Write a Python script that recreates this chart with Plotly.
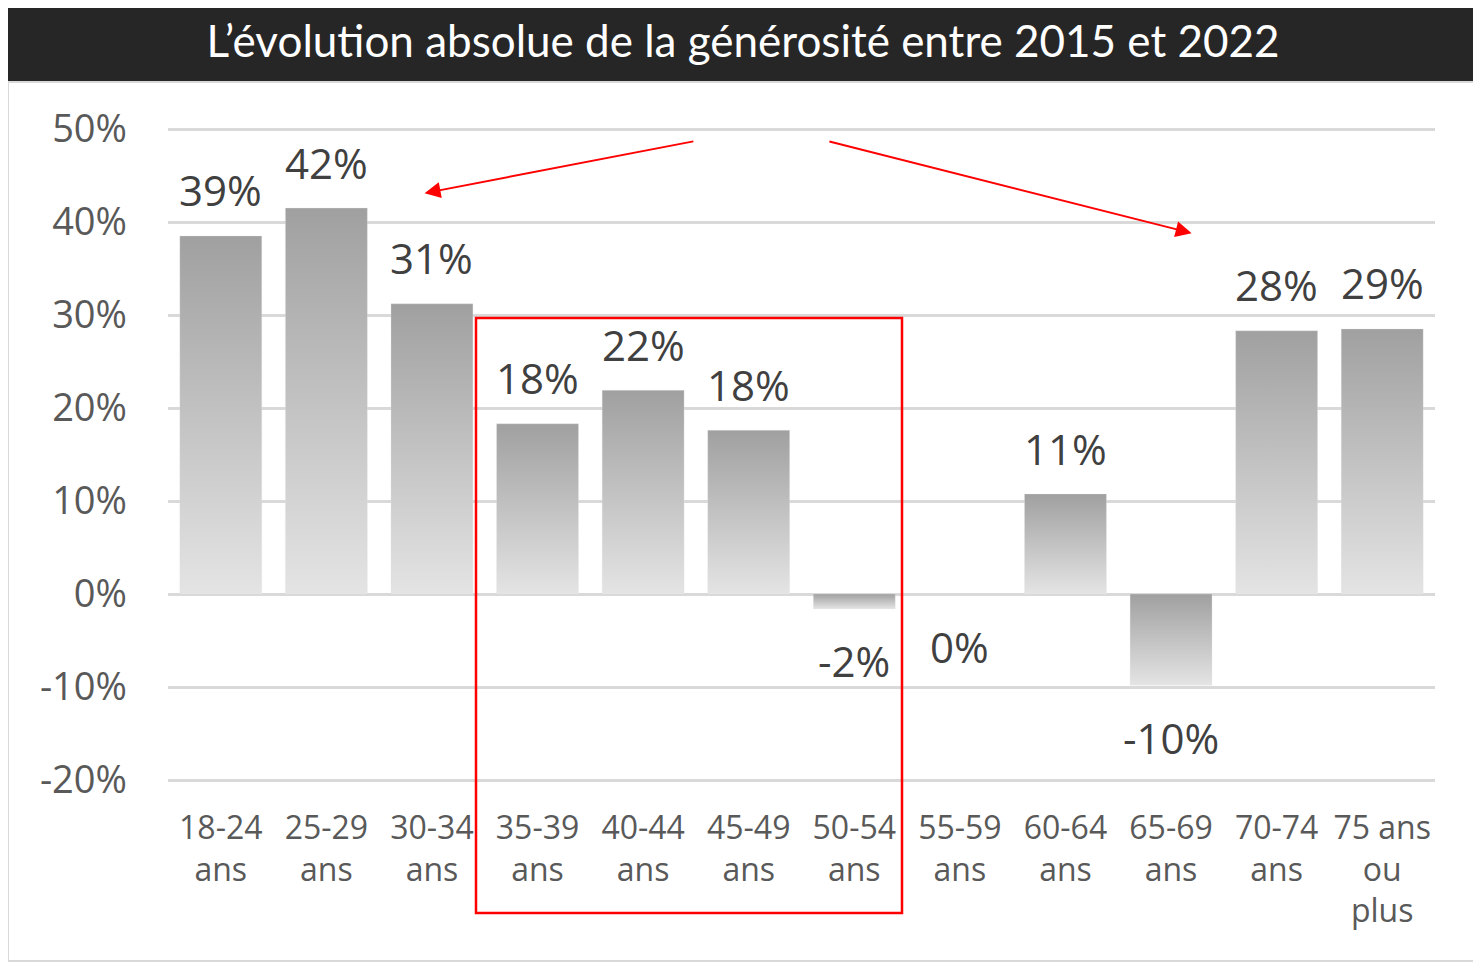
import plotly.graph_objects as go

categories = ["18-24<br>ans", "25-29<br>ans", "30-34<br>ans", "35-39<br>ans", "40-44<br>ans",
              "45-49<br>ans", "50-54<br>ans", "55-59<br>ans", "60-64<br>ans", "65-69<br>ans",
              "70-74<br>ans", "75 ans<br>ou<br>plus"]
values = [0.385, 0.415, 0.312, 0.183, 0.219, 0.176, -0.016, 0.0, 0.1075, -0.098, 0.283, 0.285]
labels = ["39%", "42%", "31%", "18%", "22%", "18%", "-2%", "0%", "11%", "-10%", "28%", "29%"]
y_ticks = [-0.2, -0.1, 0.0, 0.1, 0.2, 0.3, 0.4, 0.5]
y_tick_labels = ["-20%", "-10%", "0%", "10%", "20%", "30%", "40%", "50%"]
title_text = "L\u2019évolution absolue de la générosité entre 2015 et 2022"

OFF = 8  # page body margin
W, H = 1481 - OFF, 963 - OFF
PAD = 2  # pixels of extra plot area so edge gridlines show
px_per_unit = 930.0
d = PAD / px_per_unit
L = 168 - OFF
R = 1481 - 1435
T = 129 - PAD - OFF
B = 963 - 780 - PAD
pw, ph = W - L - R, H - T - B


def px(x):  # reference pixel x -> paper
    return (x - OFF - L) / pw


def py(y):  # reference pixel y -> paper
    return (H - B - (y - OFF)) / ph


half = 0.388
fig = go.Figure()
for i, v in enumerate(values):
    if v == 0:
        continue
    fig.add_trace(go.Scatter(
        x=[i - half, i + half, i + half, i - half, i - half],
        y=[0, 0, v, v, 0],
        mode="lines", fill="toself",
        line=dict(width=0.5, color="rgba(230,230,230,0.6)"),
        fillgradient=dict(type="vertical", colorscale=[[0, "#e4e4e4"], [1, "#a0a0a0"]]),
        hoverinfo="skip", showlegend=False,
    ))

annotations = []
for i, (v, t) in enumerate(zip(values, labels)):
    annotations.append(dict(
        x=i, y=v, xref="x", yref="y", text=t, showarrow=False,
        yanchor="middle", yshift=46 if v > 0 else -52,
        font=dict(family="Open Sans", size=42, color="#404040"),
    ))

# arrows
annotations.append(dict(x=1.93, y=0.431, ax=4.49, ay=0.487, xref="x", yref="y", axref="x", ayref="y",
                        text="", showarrow=True, arrowhead=2, arrowsize=1.6, arrowwidth=2, arrowcolor="#ff0000"))
annotations.append(dict(x=9.195, y=0.388, ax=5.75, ay=0.487, xref="x", yref="y", axref="x", ayref="y",
                        text="", showarrow=True, arrowhead=2, arrowsize=1.6, arrowwidth=2, arrowcolor="#ff0000"))

shapes = [
    # title bar
    dict(type="rect", xref="paper", yref="paper", x0=px(7), x1=px(1479), y0=py(81), y1=py(3),
         fillcolor="#262626", line=dict(width=0), layer="below"),
    # chart border
    dict(type="rect", xref="paper", yref="paper", x0=px(8), x1=px(1478), y0=py(961), y1=py(82),
         fillcolor="rgba(0,0,0,0)", line=dict(width=2, color="#d9d9d9"), layer="below"),
    # red box
    dict(type="rect", xref="paper", yref="paper", x0=px(476), x1=px(902), y0=py(913), y1=py(318),
         fillcolor="rgba(0,0,0,0)", line=dict(width=2.5, color="#ff0000")),
]

fig.update_layout(
    width=W, height=H,
    margin=dict(l=L, r=R, t=T, b=B),
    paper_bgcolor="white", plot_bgcolor="white",
    title=dict(text=title_text, x=(743 - OFF) / W, xanchor="center", y=1 - (42 - OFF) / H, yanchor="middle",
               font=dict(family="Lato", size=44, color="white")),
    xaxis=dict(range=[-0.5, len(values) - 0.5], tickmode="array", tickvals=list(range(len(values))),
               ticktext=categories, showgrid=False, zeroline=False, showline=False,
               tickfont=dict(family="Open Sans", size=32, color="#595959"), ticks="",
               ticklabelstandoff=24, fixedrange=True),
    yaxis=dict(range=[-0.2 - d, 0.5 + d], tickmode="array", tickvals=y_ticks, ticktext=y_tick_labels,
               showgrid=True, gridcolor="#d9d9d9", gridwidth=3, zeroline=True, zerolinecolor="#d9d9d9",
               zerolinewidth=3, showline=False, ticks="",
               tickfont=dict(family="Open Sans", size=38, color="#595959"),
               ticklabelstandoff=40, fixedrange=True),
    shapes=shapes, annotations=annotations, showlegend=False,
)

fig.write_html("out.html")
